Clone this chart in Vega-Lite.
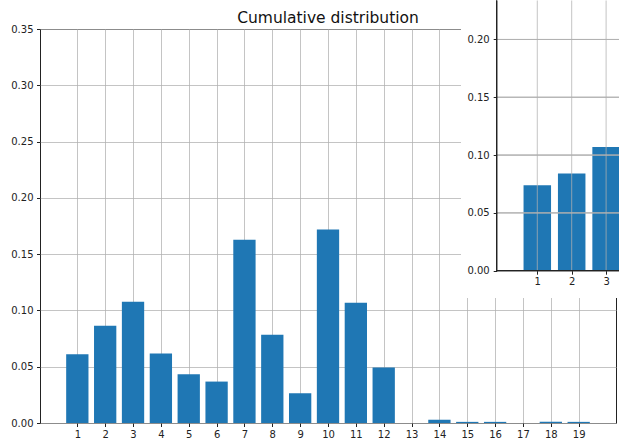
{
  "$schema": "https://vega.github.io/schema/vega-lite/v6.json",
  "padding": {"left": 10, "top": 0, "right": 0, "bottom": 0},
  "spacing": -156,
  "columns": 2,
  "align": "none",
  "config": {
    "font": "DejaVu Sans",
    "axis": {
      "labelFont": "DejaVu Sans",
      "labelFontSize": 10,
      "labelColor": "#222222",
      "tickColor": "#222222",
      "tickSize": 3.5,
      "domainColor": "#222222",
      "gridColor": "#b0b0b0",
      "gridOpacity": 0.75,
      "gridWidth": 1,
      "zindex": 1
    }
  },
  "concat": [
    {
      "width": 576,
      "height": 394,
      "title": {"text": "Cumulative distribution", "fontSize": 15.5, "font": "DejaVu Sans", "fontWeight": "normal", "color": "#111111", "frame": "group", "anchor": "middle", "offset": -2},
      "view": {"stroke": "#222222", "strokeWidth": 1, "fill": "white"},
      "data": {"values": [
        {"k": 1, "p": 0.061},
        {"k": 2, "p": 0.0864},
        {"k": 3, "p": 0.1078},
        {"k": 4, "p": 0.0617},
        {"k": 5, "p": 0.0433},
        {"k": 6, "p": 0.0368},
        {"k": 7, "p": 0.1627},
        {"k": 8, "p": 0.0784},
        {"k": 9, "p": 0.0264},
        {"k": 10, "p": 0.1719},
        {"k": 11, "p": 0.1069},
        {"k": 12, "p": 0.0493},
        {"k": 13, "p": 0},
        {"k": 14, "p": 0.0029},
        {"k": 15, "p": 0.001},
        {"k": 16, "p": 0.001},
        {"k": 17, "p": 0},
        {"k": 18, "p": 0.001},
        {"k": 19, "p": 0.001}
      ]},
      "mark": {"type": "bar", "orient": "vertical", "width": 22.3, "color": "#1f77b4"},
      "encoding": {
        "x": {"field": "k", "type": "quantitative",
          "scale": {"domain": [-0.34, 20.34], "nice": false, "zero": false, "padding": 0},
          "axis": {"title": null, "values": [1,2,3,4,5,6,7,8,9,10,11,12,13,14,15,16,17,18,19], "domain": false, "labelPadding": 2.5, "labelFlush": false, "labelOverlap": false}},
        "y": {"field": "p", "type": "quantitative",
          "scale": {"domain": [0, 0.35], "nice": false, "padding": 0},
          "axis": {"title": null, "values": [0, 0.05, 0.1, 0.15, 0.2, 0.25, 0.3, 0.35], "format": ".2f", "domain": false, "labelPadding": 3.5, "labelFlush": false, "labelOverlap": false}}
      }
    },
    {
      "width": 158,
      "height": 269,
      "view": {"fill": "white", "stroke": null},
      "data": {"values": [
        {"k": 1, "p": 0.074},
        {"k": 2, "p": 0.0841},
        {"k": 3, "p": 0.107}
      ]},
      "layer": [
        {
          "mark": {"type": "bar", "orient": "vertical", "width": 27.5, "color": "#1f77b4", "clip": true},
          "encoding": {
            "x": {"field": "k", "type": "quantitative",
              "scale": {"domain": [-0.18, 3.375], "range": [35.7, 158], "nice": false, "zero": false, "padding": 0},
              "axis": {"title": null, "values": [1, 2, 3], "offset": -27.3, "grid": false, "domain": false, "labelPadding": 2.5, "labelFlush": false, "labelOverlap": false}},
            "y": {"field": "p", "type": "quantitative",
              "scale": {"domain": [0, 0.2337], "range": [241.7, -28.5], "nice": false, "zero": false, "padding": 0},
              "axis": {"title": null, "values": [0, 0.05, 0.1, 0.15, 0.2], "format": ".2f", "offset": -35.7, "grid": false, "domain": false, "labelPadding": 4, "labelFlush": false, "labelOverlap": false}}
          }
        },
        {
          "mark": {"type": "rule", "color": "#b0b0b0", "opacity": 0.75, "strokeWidth": 1},
          "encoding": {
            "x": {"field": "k", "type": "quantitative"},
            "y": {"datum": 0, "type": "quantitative"},
            "y2": {"datum": 0.2337}
          }
        },
        {
          "mark": {"type": "rule", "color": "#b0b0b0", "opacity": 0.75, "strokeWidth": 1},
          "encoding": {
            "y": {"datum": 0.05, "type": "quantitative"},
            "x": {"datum": -0.18, "type": "quantitative"},
            "x2": {"datum": 3.375}
          }
        },
        {
          "mark": {"type": "rule", "color": "#b0b0b0", "opacity": 0.75, "strokeWidth": 1},
          "encoding": {
            "y": {"datum": 0.1, "type": "quantitative"},
            "x": {"datum": -0.18, "type": "quantitative"},
            "x2": {"datum": 3.375}
          }
        },
        {
          "mark": {"type": "rule", "color": "#b0b0b0", "opacity": 0.75, "strokeWidth": 1},
          "encoding": {
            "y": {"datum": 0.15, "type": "quantitative"},
            "x": {"datum": -0.18, "type": "quantitative"},
            "x2": {"datum": 3.375}
          }
        },
        {
          "mark": {"type": "rule", "color": "#b0b0b0", "opacity": 0.75, "strokeWidth": 1},
          "encoding": {
            "y": {"datum": 0.2, "type": "quantitative"},
            "x": {"datum": -0.18, "type": "quantitative"},
            "x2": {"datum": 3.375}
          }
        },
        {
          "mark": {"type": "rule", "color": "#222222", "strokeWidth": 1},
          "encoding": {
            "x": {"datum": -0.18, "type": "quantitative"},
            "y": {"datum": 0, "type": "quantitative"},
            "y2": {"datum": 0.2337}
          }
        },
        {
          "mark": {"type": "rule", "color": "#222222", "strokeWidth": 1},
          "encoding": {
            "y": {"datum": 0, "type": "quantitative"},
            "x": {"datum": -0.18, "type": "quantitative"},
            "x2": {"datum": 3.375}
          }
        }
      ]
    }
  ]
}
